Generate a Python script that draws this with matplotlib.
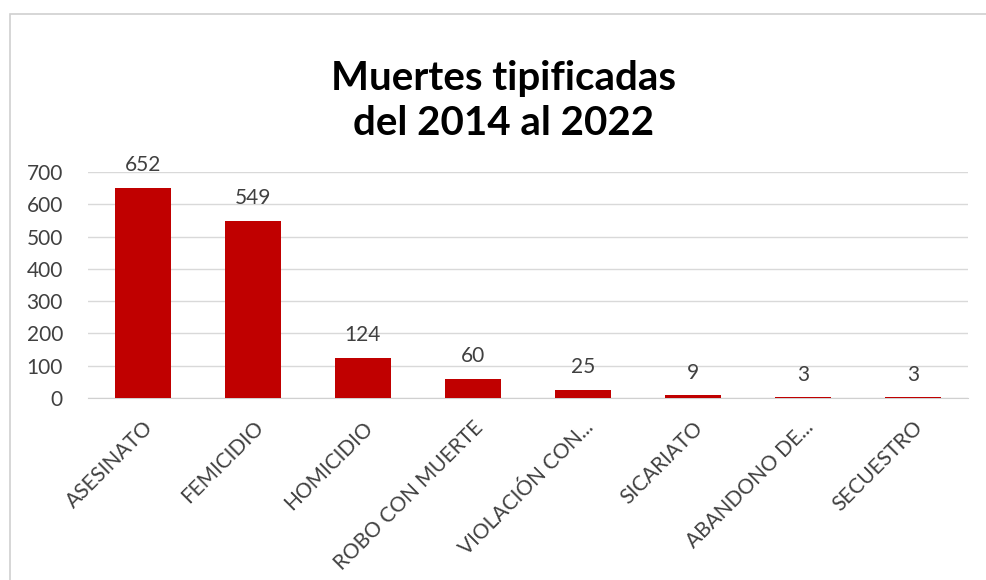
import matplotlib.pyplot as plt
from matplotlib.patches import Rectangle
import numpy as np

categorias = ["ASESINATO", "FEMICIDIO", "HOMICIDIO", "ROBO CON MUERTE",
              "VIOLACIÓN CON...", "SICARIATO", "ABANDONO DE...", "SECUESTRO"]
muertes = [652, 549, 124, 60, 25, 9, 3, 3]

plt.rcParams['font.family'] = ['Lato', 'DejaVu Sans']

fig = plt.figure(figsize=(9.86, 5.8), dpi=100)
ax = fig.add_axes([0.0892, 0.3138, 0.8925, 0.3896])

# marco del gráfico
fig.patches.append(Rectangle((10 / 986, -0.01), 1.0, 1 - 14 / 580 + 0.01,
                             transform=fig.transFigure, fill=False,
                             edgecolor="#d0d0d0", linewidth=1.2))

x = np.arange(len(categorias))
bars = ax.bar(x, muertes, width=0.51, color="#C00000", zorder=3)
ax.bar_label(bars, labels=[str(v) for v in muertes], padding=9,
             fontsize=15, color="#404040")

ax.set_xlim(-0.5, len(categorias) - 0.5)
ax.set_ylim(0, 700)
ax.set_yticks(range(0, 701, 100))
ax.tick_params(axis='y', length=0, labelsize=15, labelcolor="#404040", pad=18)
ax.set_xticks(x)
ax.set_xticklabels(categorias, rotation=45, ha='right', rotation_mode='anchor',
                   fontsize=15, color="#404040")
ax.tick_params(axis='x', length=0, pad=14)
ax.grid(axis='y', color="#d9d9d9", linewidth=1, zorder=0)
for s in ['top', 'right', 'left']:
    ax.spines[s].set_visible(False)
ax.spines['bottom'].set_color("#d0d0d0")

fig.text(0.511, 0.826, "Muertes tipificadas\ndel 2014 al 2022", ha='center',
         va='center', fontsize=29, fontweight='bold', linespacing=1.25)

plt.savefig("out.png", dpi=100)
